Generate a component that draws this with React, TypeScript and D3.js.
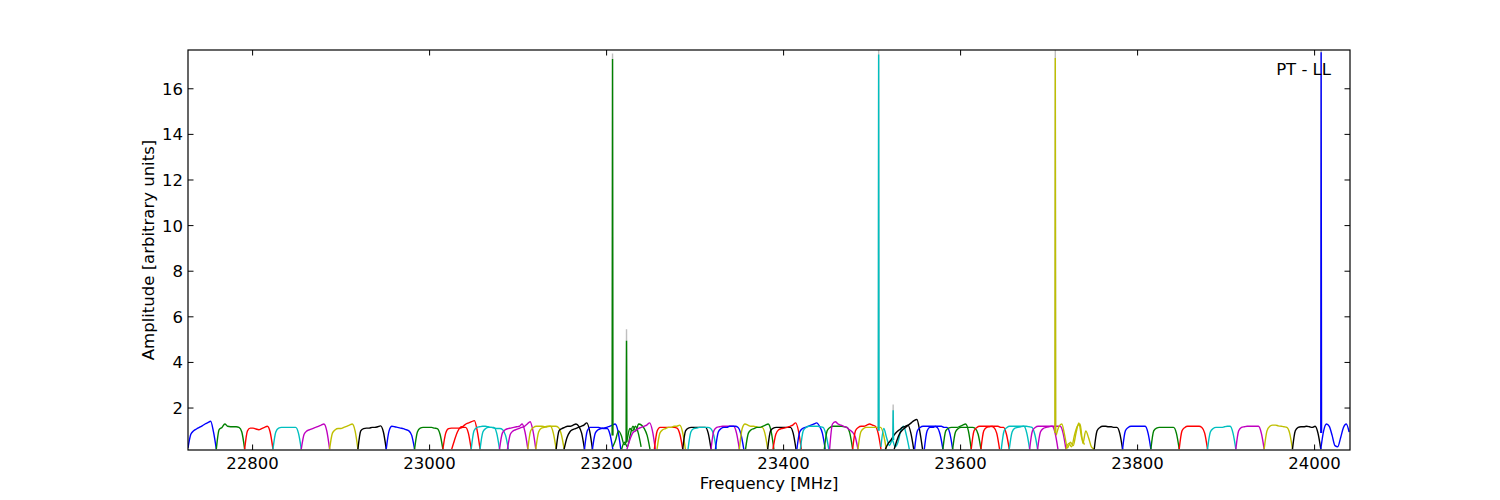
import React from 'react';
import * as d3 from 'd3';

// axis ticks
const xTicks = [22800, 23000, 23200, 23400, 23600, 23800, 24000];
const yTicks = [2, 4, 6, 8, 10, 12, 14, 16];

// spectral windows: start frequency (MHz), colour code, bandpass samples across the window
const WINDOW_WIDTH = 32;
const windowStarts = [
  22727, 22759, 22791, 22823, 22855, 22887, 22919, 22951, 22983, 23015,
  23025, 23047, 23057, 23079, 23088, 23111, 23120, 23143, 23152, 23175,
  23184, 23207, 23217, 23223, 23254, 23257, 23286, 23292, 23318, 23323,
  23350, 23357, 23382, 23388, 23415, 23419, 23446, 23452, 23478, 23484,
  23510, 23515, 23525, 23548, 23559, 23580, 23591, 23612, 23623, 23646,
  23655, 23678, 23687, 23708, 23719, 23751, 23783, 23815, 23847, 23879,
  23911, 23943, 23975, 24007,
];
const windowColors = [
  'b', 'g', 'r', 'c', 'm', 'y', 'k', 'b', 'g', 'r',
  'r', 'c', 'c', 'm', 'm', 'y', 'y', 'k', 'k', 'b',
  'b', 'g', 'g', 'm', 'r', 'y', 'k', 'c', 'm', 'b',
  'y', 'g', 'k', 'r', 'b', 'c', 'g', 'm', 'r', 'y',
  'c', 'k', 'k', 'b', 'b', 'g', 'g', 'r', 'r', 'c',
  'c', 'm', 'm', 'y', 'y', 'k', 'b', 'g', 'r', 'c',
  'm', 'y', 'k', 'b',
];
const windowProfiles = [
  [0.25, 0.85, 1.0, 1.08, 1.15, 1.22, 1.3, 1.36, 1.42, 0.95, 0.2],
  [0.2, 1.05, 1.15, 1.3, 1.2, 1.18, 1.18, 1.18, 1.15, 0.95, 0.2],
  [0.2, 1.0, 1.12, 1.12, 1.08, 1.05, 1.1, 1.15, 1.2, 0.95, 0.2],
  [0.2, 0.95, 1.12, 1.15, 1.15, 1.15, 1.15, 1.15, 1.15, 0.9, 0.2],
  [0.2, 0.85, 1.0, 1.05, 1.1, 1.15, 1.2, 1.25, 1.3, 1.0, 0.2],
  [0.2, 0.9, 1.05, 1.1, 1.1, 1.15, 1.2, 1.25, 1.3, 1.0, 0.2],
  [0.2, 1.0, 1.1, 1.12, 1.12, 1.15, 1.15, 1.18, 1.22, 0.95, 0.2],
  [0.2, 1.0, 1.2, 1.18, 1.15, 1.12, 1.1, 1.05, 1.0, 0.8, 0.2],
  [0.2, 0.95, 1.12, 1.15, 1.15, 1.15, 1.15, 1.12, 1.1, 0.85, 0.2],
  [0.2, 0.9, 1.1, 1.12, 1.12, 1.12, 1.12, 1.15, 1.15, 0.9, 0.2],
  [0.2, 0.6, 0.95, 1.15, 1.2, 1.3, 1.35, 1.4, 1.45, 1.0, 0.2],
  [0.2, 1.0, 1.15, 1.18, 1.2, 1.2, 1.18, 1.15, 1.15, 0.9, 0.2],
  [0.2, 0.95, 1.1, 1.15, 1.15, 1.12, 1.1, 1.1, 1.05, 0.8, 0.2],
  [0.2, 0.9, 1.05, 1.1, 1.12, 1.15, 1.18, 1.2, 1.3, 0.95, 0.2],
  [0.2, 0.85, 1.0, 1.05, 1.1, 1.15, 1.2, 1.3, 1.4, 1.0, 0.2],
  [0.2, 1.0, 1.15, 1.2, 1.2, 1.2, 1.18, 1.2, 1.2, 0.9, 0.2],
  [0.2, 0.95, 1.12, 1.15, 1.18, 1.2, 1.2, 1.2, 1.15, 0.85, 0.2],
  [0.2, 1.0, 1.1, 1.15, 1.2, 1.2, 1.25, 1.3, 1.2, 0.9, 0.2],
  [0.2, 0.7, 0.95, 1.05, 1.1, 1.15, 1.2, 1.25, 1.35, 1.0, 0.2],
  [0.2, 1.0, 1.15, 1.15, 1.15, 1.15, 1.12, 1.1, 1.1, 0.85, 0.2],
  [0.2, 0.9, 1.05, 1.1, 1.12, 1.15, 1.2, 1.25, 1.3, 1.0, 0.2],
  [0.3, 0.6, 1.0, 0.8, 0.4, 0.6, 1.1, 1.0, 1.2, 0.9, 0.3],
  [0.2, 0.5, 0.3, 0.8, 1.2, 1.0, 1.3, 1.25, 1.1, 0.8, 0.2],
  [0.2, 0.6, 0.9, 1.0, 1.1, 1.15, 1.2, 1.25, 1.35, 1.0, 0.2],
  [0.2, 1.0, 1.15, 1.15, 1.15, 1.15, 1.15, 1.15, 1.12, 0.85, 0.2],
  [0.2, 0.9, 1.05, 1.1, 1.15, 1.15, 1.2, 1.2, 1.25, 0.95, 0.2],
  [0.2, 1.0, 1.12, 1.15, 1.15, 1.15, 1.15, 1.15, 1.15, 0.9, 0.2],
  [0.2, 0.95, 1.1, 1.12, 1.15, 1.15, 1.15, 1.15, 1.1, 0.85, 0.2],
  [0.2, 1.0, 1.15, 1.18, 1.2, 1.2, 1.2, 1.2, 1.2, 0.9, 0.2],
  [0.2, 0.95, 1.1, 1.15, 1.15, 1.2, 1.2, 1.2, 1.15, 0.85, 0.2],
  [0.2, 1.1, 1.3, 1.25, 1.2, 1.2, 1.18, 1.15, 1.15, 0.9, 0.2],
  [0.2, 0.9, 1.05, 1.1, 1.15, 1.15, 1.2, 1.25, 1.3, 1.0, 0.2],
  [0.2, 1.0, 1.12, 1.15, 1.15, 1.15, 1.15, 1.15, 1.15, 0.9, 0.2],
  [0.2, 0.85, 1.05, 1.1, 1.12, 1.15, 1.2, 1.25, 1.35, 1.0, 0.2],
  [0.2, 0.95, 1.1, 1.15, 1.2, 1.25, 1.3, 1.35, 1.2, 0.9, 0.2],
  [0.2, 1.0, 1.15, 1.2, 1.2, 1.2, 1.2, 1.18, 1.15, 0.85, 0.2],
  [0.2, 1.0, 1.15, 1.2, 1.2, 1.2, 1.2, 1.18, 1.15, 0.9, 0.2],
  [0.2, 1.3, 1.4, 1.3, 1.25, 1.2, 1.15, 1.05, 0.95, 0.75, 0.2],
  [0.2, 1.0, 1.15, 1.2, 1.2, 1.25, 1.3, 1.25, 1.2, 0.9, 0.2],
  [0.2, 0.95, 1.1, 1.15, 1.15, 1.15, 1.15, 1.15, 1.15, 0.85, 0.2],
  [0.3, 1.1, 0.7, 0.35, 0.6, 0.3, 0.5, 1.0, 1.2, 0.8, 0.2],
  [0.2, 0.45, 0.6, 0.8, 0.95, 1.05, 1.15, 1.2, 1.25, 0.9, 0.2],
  [0.2, 0.6, 0.9, 1.05, 1.15, 1.25, 1.35, 1.45, 1.5, 1.0, 0.2],
  [0.2, 1.0, 1.15, 1.2, 1.2, 1.2, 1.2, 1.2, 1.15, 0.85, 0.2],
  [0.2, 1.0, 1.15, 1.15, 1.2, 1.2, 1.2, 1.15, 1.15, 0.9, 0.2],
  [0.2, 1.0, 1.12, 1.15, 1.15, 1.15, 1.2, 1.25, 1.3, 1.0, 0.2],
  [0.2, 0.95, 1.1, 1.15, 1.15, 1.15, 1.15, 1.15, 1.1, 0.85, 0.2],
  [0.2, 1.0, 1.15, 1.2, 1.2, 1.2, 1.2, 1.2, 1.15, 0.9, 0.2],
  [0.2, 1.0, 1.15, 1.18, 1.2, 1.2, 1.2, 1.15, 1.15, 0.85, 0.2],
  [0.2, 1.0, 1.15, 1.2, 1.2, 1.2, 1.2, 1.2, 1.2, 0.9, 0.2],
  [0.2, 0.95, 1.12, 1.15, 1.18, 1.2, 1.2, 1.18, 1.15, 0.85, 0.2],
  [0.2, 1.0, 1.15, 1.2, 1.2, 1.2, 1.2, 1.2, 1.2, 0.9, 0.2],
  [0.2, 0.95, 1.1, 1.15, 1.18, 1.2, 1.2, 1.2, 1.2, 0.9, 0.2],
  [0.8, 1.2, 1.3, 0.8, 0.25, 0.5, 0.35, 0.9, 1.35, 0.7, 0.4],
  [0.2, 0.45, 0.3, 0.8, 1.2, 1.3, 0.45, 1.0, 0.7, 0.3, 0.2],
  [0.2, 1.0, 1.15, 1.2, 1.2, 1.18, 1.18, 1.15, 1.15, 0.9, 0.2],
  [0.2, 1.0, 1.15, 1.2, 1.2, 1.2, 1.2, 1.2, 1.2, 0.9, 0.2],
  [0.2, 1.0, 1.12, 1.15, 1.15, 1.15, 1.15, 1.15, 1.15, 0.9, 0.2],
  [0.2, 1.0, 1.15, 1.2, 1.2, 1.2, 1.2, 1.2, 1.15, 0.9, 0.2],
  [0.2, 0.95, 1.1, 1.15, 1.15, 1.15, 1.18, 1.2, 1.2, 0.9, 0.2],
  [0.2, 1.0, 1.15, 1.18, 1.2, 1.2, 1.2, 1.2, 1.2, 0.9, 0.2],
  [0.2, 1.0, 1.2, 1.25, 1.25, 1.22, 1.2, 1.18, 1.15, 0.9, 0.2],
  [0.2, 1.0, 1.15, 1.18, 1.18, 1.2, 1.18, 1.15, 1.2, 0.9, 0.2],
  [0.2, 1.0, 1.3, 1.2, 0.8, 0.35, 0.3, 0.7, 1.15, 1.3, 0.95],
];

// narrow RFI spikes
const spikeFreqs = [23206.7, 23222.5, 23507.4, 23523.8, 23707.0, 24007.4];
const spikeColors = ['g', 'g', 'c', 'c', 'y', 'b'];
const spikeBases = [0.8, 0.5, 1.0, 0.6, 0.9, 0.9];
const spikePeaks = [17.3, 4.95, 17.5, 1.9, 17.35, 17.6];
const spikeGrayPeaks = [17.55, 5.45, 17.9, 2.15, 17.9, 17.9];

const colorMap: Record<string, string> = {
  b: '#0000ff',
  g: '#008000',
  r: '#ff0000',
  c: '#00bfbf',
  m: '#bf00bf',
  y: '#bfbf00',
  k: '#000000',
};

const FONT = 'DejaVu Sans, sans-serif';

export default function App() {
  const left = 188, right = 1350, top = 50, bottom = 450;

  const x = d3.scaleLinear().domain([22727, 24040]).range([left, right]);
  const y = d3.scaleLinear().domain([0.16, 17.7]).range([bottom, top]);

  const line = d3.line<[number, number]>()
    .x(d => x(d[0]))
    .y(d => y(d[1]))
    .curve(d3.curveMonotoneX);

  const spikeLine = d3.line<[number, number]>()
    .x(d => x(d[0]))
    .y(d => y(d[1]));

  const windows = windowStarts.map((f0, i) => {
    const vals = windowProfiles[i];
    const pts: [number, number][] = vals.map((v, j) => [f0 + (j / (vals.length - 1)) * WINDOW_WIDTH, v]);
    return { color: colorMap[windowColors[i]], d: line(pts) };
  });

  const spike = (f: number, base: number, peak: number) =>
    spikeLine([[f - 0.4, base], [f, peak], [f + 0.4, base]]);

  const tickLen = 5.5;

  return (
    <svg width={1500} height={500} style={{ position: 'absolute', left: 0, top: 0, background: '#fff' }}>
      <rect x={0} y={0} width={1500} height={500} fill="#ffffff" />
      <defs>
        <clipPath id="plotClip">
          <rect x={left} y={top} width={right - left} height={bottom - top} />
        </clipPath>
      </defs>

      <g clipPath="url(#plotClip)">
        {spikeFreqs.map((f, i) => (
          <path key={'gs' + i} d={spike(f, spikeBases[i], spikeGrayPeaks[i]) || ''}
            fill="none" stroke="#bfbfbf" strokeWidth={1.4} />
        ))}
        {windows.map((w, i) => (
          <path key={'w' + i} d={w.d || ''} fill="none" stroke={w.color} strokeWidth={1.4} />
        ))}
        {spikeFreqs.map((f, i) => (
          <path key={'s' + i} d={spike(f, spikeBases[i], spikePeaks[i]) || ''}
            fill="none" stroke={colorMap[spikeColors[i]]} strokeWidth={1.4} />
        ))}
      </g>

      {/* frame */}
      <rect x={left} y={top} width={right - left} height={bottom - top} fill="none" stroke="#000" strokeWidth={1.2} />

      {/* x ticks */}
      {xTicks.map(t => (
        <g key={'xt' + t}>
          <line x1={x(t)} x2={x(t)} y1={bottom} y2={bottom - tickLen} stroke="#000" strokeWidth={1} />
          <line x1={x(t)} x2={x(t)} y1={top} y2={top + tickLen} stroke="#000" strokeWidth={1} />
          <text x={x(t)} y={469} textAnchor="middle" fontFamily={FONT} fontSize={16.5} fill="#000">{t}</text>
        </g>
      ))}

      {/* y ticks */}
      {yTicks.map(t => (
        <g key={'yt' + t}>
          <line x1={left} x2={left + tickLen} y1={y(t)} y2={y(t)} stroke="#000" strokeWidth={1} />
          <line x1={right} x2={right - tickLen} y1={y(t)} y2={y(t)} stroke="#000" strokeWidth={1} />
          <text x={183} y={y(t) + 6} textAnchor="end" fontFamily={FONT} fontSize={16.5} fill="#000">{t}</text>
        </g>
      ))}

      <text x={(left + right) / 2} y={489} textAnchor="middle" fontFamily={FONT} fontSize={16.5} fill="#000">
        Frequency [MHz]
      </text>
      <text transform={`translate(154, ${(top + bottom) / 2}) rotate(-90)`} textAnchor="middle"
        fontFamily={FONT} fontSize={16.5} fill="#000">
        Amplitude [arbitrary units]
      </text>
      <text x={1331} y={75} textAnchor="end" fontFamily={FONT} fontSize={16.5} fill="#000">PT - LL</text>
    </svg>
  );
}
